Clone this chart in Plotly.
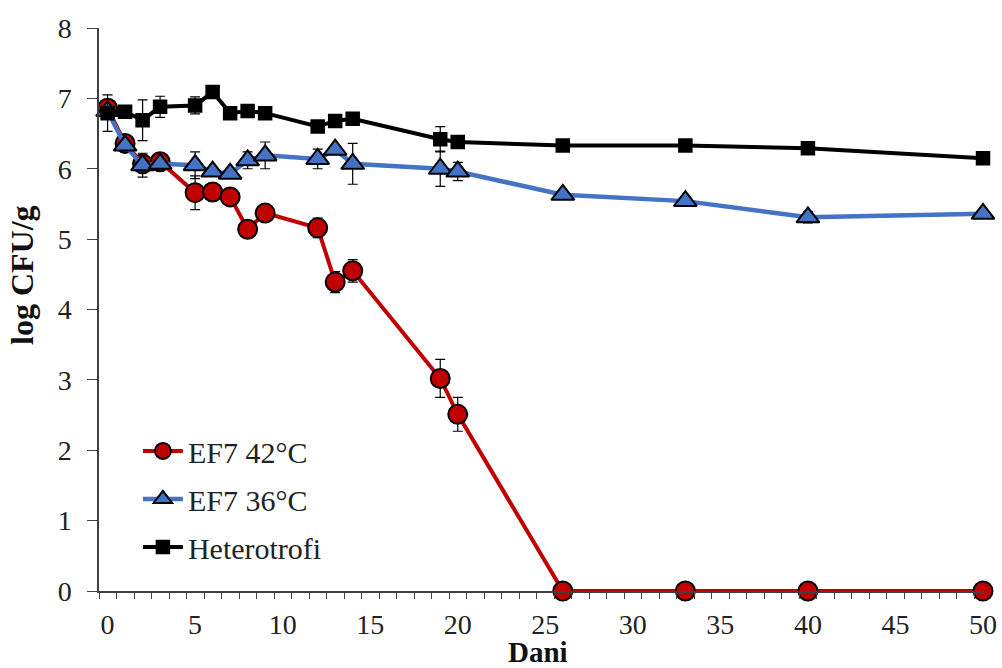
import plotly.graph_objects as go

days = [0, 1, 2, 3, 5, 6, 7, 8, 9, 12, 13, 14, 19, 20, 26, 33, 40, 50]

ef7_42 = [6.86, 6.36, 6.07, 6.10, 5.66, 5.67, 5.60, 5.14, 5.37, 5.16, 4.39, 4.55, 3.02, 2.51, 0, 0, 0, 0]
ef7_42_err = [0.05, 0.05, 0.05, 0.05, 0.24, 0.05, 0.05, 0.05, 0.05, 0.14, 0.15, 0.16, 0.27, 0.24, 0, 0, 0, 0]

ef7_36 = [6.82, 6.33, 6.05, 6.07, 6.05, 5.96, 5.93, 6.12, 6.19, 6.14, 6.27, 6.07, 6.00, 5.96, 5.63, 5.54, 5.31, 5.36]
ef7_36_err = [0.05, 0.05, 0.17, 0.05, 0.19, 0.05, 0.05, 0.12, 0.19, 0.14, 0.05, 0.29, 0.25, 0.13, 0.05, 0.06, 0.08, 0.05]

hetero = [6.79, 6.81, 6.69, 6.88, 6.90, 7.09, 6.79, 6.82, 6.79, 6.60, 6.68, 6.71, 6.42, 6.38, 6.33, 6.33, 6.29, 6.15]
hetero_err = [0.26, 0.03, 0.29, 0.15, 0.12, 0.03, 0.03, 0.03, 0.03, 0.03, 0.03, 0.03, 0.18, 0.03, 0.03, 0.03, 0.03, 0.03]

x_ticks = [0, 5, 10, 15, 20, 25, 30, 35, 40, 45, 50]
y_ticks = [0, 1, 2, 3, 4, 5, 6, 7, 8]

FONT = "Liberation Serif, Times New Roman, serif"

fig = go.Figure()

fig.add_trace(go.Scatter(
    x=days, y=ef7_42, name="EF7 42°C", mode="lines+markers", legendgroup="a",
    line=dict(color="#C00000", width=4),
    marker=dict(symbol="circle", size=19, color="#C00000", line=dict(color="black", width=2)),
    error_y=dict(type="data", array=ef7_42_err, color="black", thickness=1.2, width=5),
    cliponaxis=False,
))
fig.add_trace(go.Scatter(
    x=days, y=ef7_36, name="EF7 36°C", mode="lines+markers", legendgroup="b",
    line=dict(color="#4472C4", width=4.5),
    marker=dict(symbol="triangle-up", size=20, color="#4472C4", line=dict(color="black", width=2)),
    error_y=dict(type="data", array=ef7_36_err, color="black", thickness=1.2, width=5),
    cliponaxis=False,
))
fig.add_trace(go.Scatter(
    x=days, y=hetero, name="Heterotrofi", mode="lines+markers", legendgroup="c",
    line=dict(color="black", width=4),
    marker=dict(symbol="square", size=13, color="black", line=dict(color="black", width=1.5)),
    error_y=dict(type="data", array=hetero_err, color="black", thickness=1.2, width=5),
    cliponaxis=False,
))

fig.update_layout(
    width=1002, height=668,
    margin=dict(l=99, r=19, t=28, b=77, autoexpand=False),
    paper_bgcolor="white", plot_bgcolor="white",
    font=dict(family=FONT, size=28, color="black"),
    showlegend=True,
    legend=dict(
        x=0.044, y=0.295, xanchor="left", yanchor="top",
        bgcolor="rgba(0,0,0,0)", font=dict(family=FONT, size=30, color="#222"),
        tracegroupgap=6, itemwidth=40,
    ),
    xaxis=dict(
        range=[-0.49, 50.0], tickmode="array", tickvals=x_ticks, automargin=False,
        ticks="", showline=True, linecolor="#404040", linewidth=1.5,
        showgrid=False, zeroline=False,
        tickfont=dict(family=FONT, size=28, color="#222"),
        minor=dict(tickmode="linear", tick0=-0.49, dtick=1, ticks="outside", ticklen=6,
                   tickcolor="#404040", tickwidth=1.2, showgrid=False),
        ticklabelstandoff=8,
    ),
    yaxis=dict(
        range=[0, 8], tickmode="array", tickvals=y_ticks, automargin=False,
        ticks="outside", ticklen=10, tickcolor="#404040", tickwidth=1.2,
        showline=True, linecolor="#404040", linewidth=1.5,
        showgrid=False, zeroline=False,
        tickfont=dict(family=FONT, size=28, color="#222"),
        ticklabelstandoff=10,
    ),
    annotations=[
        dict(
            text="<b>log CFU/g</b>", textangle=-90, xref="paper", yref="paper",
            x=(22 - 99) / 884, y=(591 - 275) / 563, xanchor="center", yanchor="middle",
            showarrow=False, font=dict(family=FONT, size=32, color="#111"),
        ),
        dict(
            text="<b>Dani</b>", xref="paper", yref="paper",
            x=(538 - 99) / 884, y=(591 - 670) / 563, xanchor="center", yanchor="bottom",
            showarrow=False, font=dict(family=FONT, size=29, color="#111"),
        ),
    ],
)

fig.write_html(
    "out.html",
    config={"displayModeBar": False},
    post_script="document.body.style.margin='0';document.body.style.overflow='hidden';",
)
